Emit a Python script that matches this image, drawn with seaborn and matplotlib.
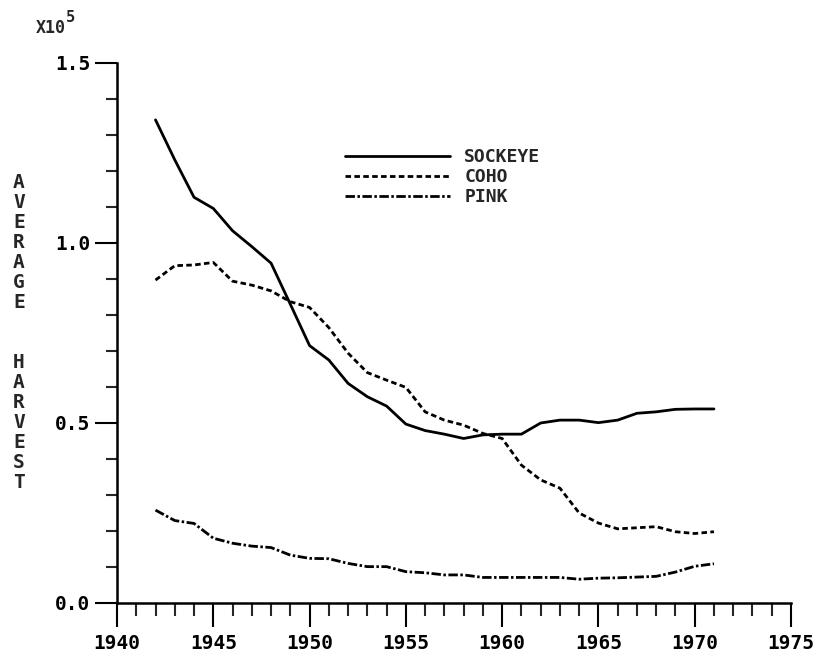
import pandas as pd
import matplotlib
matplotlib.use('Agg')
import matplotlib.pyplot as plt
import seaborn as sns
from matplotlib.ticker import MultipleLocator, FormatStrFormatter

#average harvest (x10^5), 1942-1971
years = [1942, 1943, 1944, 1945, 1946, 1947, 1948, 1949, 1950, 1951,
         1952, 1953, 1954, 1955, 1956, 1957, 1958, 1959, 1960, 1961,
         1962, 1963, 1964, 1965, 1966, 1967, 1968, 1969, 1970, 1971]
sockeye = [1.342, 1.231, 1.127, 1.096, 1.034, 0.990, 0.944, 0.830, 0.715, 0.675,
           0.610, 0.573, 0.547, 0.497, 0.479, 0.469, 0.457, 0.467, 0.469, 0.469,
           0.500, 0.508, 0.508, 0.501, 0.508, 0.527, 0.531, 0.538, 0.539, 0.539]
coho = [0.897, 0.937, 0.939, 0.946, 0.894, 0.883, 0.867, 0.837, 0.821, 0.765,
        0.694, 0.640, 0.619, 0.599, 0.531, 0.508, 0.494, 0.471, 0.457, 0.383,
        0.342, 0.319, 0.250, 0.222, 0.206, 0.209, 0.212, 0.198, 0.193, 0.198]
pink = [0.258, 0.229, 0.221, 0.180, 0.166, 0.158, 0.154, 0.133, 0.124, 0.123,
        0.110, 0.101, 0.101, 0.087, 0.084, 0.078, 0.078, 0.071, 0.071, 0.071,
        0.071, 0.071, 0.066, 0.069, 0.070, 0.072, 0.074, 0.086, 0.102, 0.109]
species = ['SOCKEYE', 'COHO', 'PINK']
ylabel = 'AVERAGE  HARVEST'

df = pd.concat([
    pd.DataFrame({'year': years, 'harvest': sockeye, 'species': 'SOCKEYE'}),
    pd.DataFrame({'year': years, 'harvest': coho, 'species': 'COHO'}),
    pd.DataFrame({'year': years, 'harvest': pink, 'species': 'PINK'}),
])

sns.set_style('ticks')
plt.rcParams['font.family'] = ['DejaVu Sans Mono']
plt.rcParams['font.weight'] = 'bold'

fig = plt.figure(figsize=(8.2, 6.57), dpi=100)
ax = fig.add_axes([117/820, 54/657, 674/820, 540/657])

sns.lineplot(data=df, x='year', y='harvest', hue='species', style='species',
             hue_order=species, style_order=species,
             palette={s: 'black' for s in species},
             dashes={'SOCKEYE': '', 'COHO': (2, 1.2), 'PINK': (3.4, 0.9, 0.9, 0.9)},
             linewidth=2.0, legend=False, ax=ax)

ax.set_xlim(1940, 1975)
ax.set_ylim(0, 1.5)
ax.xaxis.set_major_locator(MultipleLocator(5))
ax.xaxis.set_minor_locator(MultipleLocator(1))
ax.yaxis.set_major_locator(MultipleLocator(0.5))
ax.yaxis.set_minor_locator(MultipleLocator(0.1))
ax.yaxis.set_major_formatter(FormatStrFormatter('%.1f'))
ax.set_xlabel('')
ax.set_ylabel('')

for s in ['top', 'right']:
    ax.spines[s].set_visible(False)
for s in ['left', 'bottom']:
    ax.spines[s].set_linewidth(1.8)
    ax.spines[s].set_color('black')

ax.tick_params(axis='x', which='major', length=17, width=1.5, pad=5, labelsize=14, colors='black')
ax.tick_params(axis='x', which='minor', length=9.4, width=1.5)
ax.tick_params(axis='y', which='major', length=16, width=1.5, pad=3, labelsize=14, colors='black')
ax.tick_params(axis='y', which='minor', length=8, width=1.5)

leg = ax.legend(ax.lines[:3], species, loc='upper left',
                bbox_to_anchor=((345-117)/674, (603-148)/540),
                frameon=False, fontsize=13, handlelength=5.8, handletextpad=0.8,
                labelspacing=0.12, borderpad=0, borderaxespad=0)

#stacked vertical axis label, one letter per line like the plotter did
for i, ch in enumerate(ylabel):
    fig.text(19/820, 1 - (183 + 20*i)/657, ch, ha='center', va='center', fontsize=14, fontweight='bold')

fig.text(36/820, 1 - 28/657, 'X10', ha='left', va='center', fontsize=12, fontweight='bold')
fig.text(66/820, 1 - 18/657, '5', ha='left', va='center', fontsize=11, fontweight='bold')

plt.savefig('out.png', dpi=100)
